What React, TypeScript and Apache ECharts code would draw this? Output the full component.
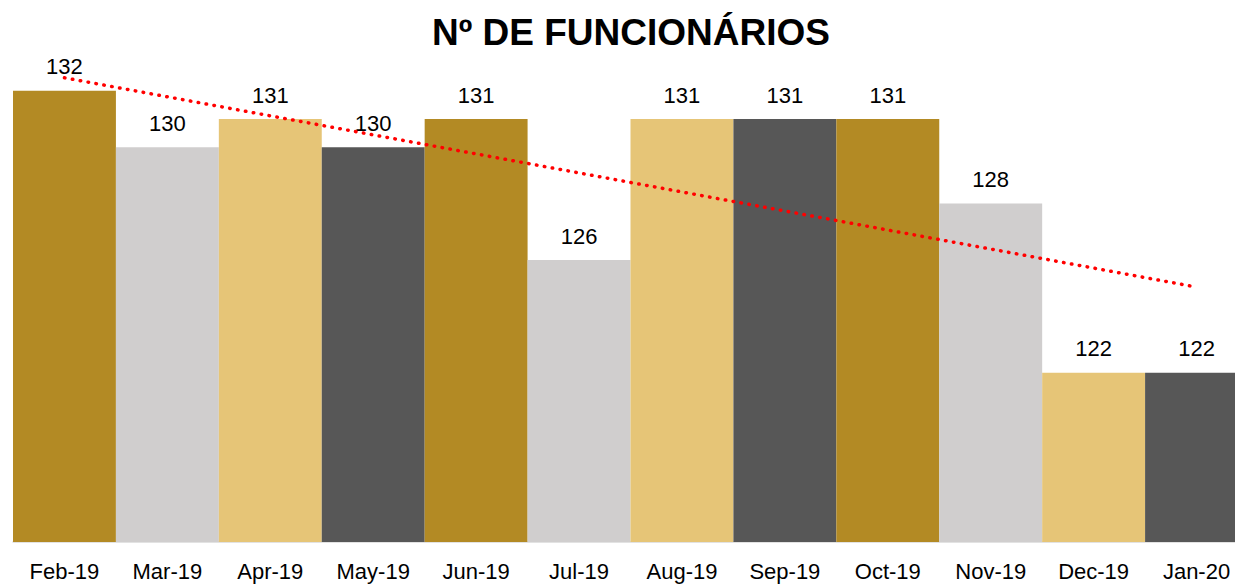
import React, { useEffect, useRef } from "react";
import * as echarts from "echarts";

const title = "Nº DE FUNCIONÁRIOS";
const categories = ["Feb-19", "Mar-19", "Apr-19", "May-19", "Jun-19", "Jul-19", "Aug-19", "Sep-19", "Oct-19", "Nov-19", "Dec-19", "Jan-20"];
const values = [132, 130, 131, 130, 131, 126, 131, 131, 131, 128, 122, 122];
const palette = ["#B38A24", "#D0CECE", "#E6C577", "#575757"];

function linearTrend(ys: number[]): number[] {
  const n = ys.length;
  const xs = ys.map((_, i) => i + 1);
  const mx = xs.reduce((a, b) => a + b, 0) / n;
  const my = ys.reduce((a, b) => a + b, 0) / n;
  let sxy = 0, sxx = 0;
  for (let i = 0; i < n; i++) {
    sxy += (xs[i] - mx) * (ys[i] - my);
    sxx += (xs[i] - mx) * (xs[i] - mx);
  }
  const slope = sxy / sxx;
  return xs.map((x) => my + slope * (x - mx));
}

export default function App() {
  const ref = useRef<HTMLDivElement>(null);
  useEffect(() => {
    if (!ref.current) return;
    const chart = echarts.init(ref.current, null, { renderer: "svg" });
    const font = "'Liberation Sans', Arial, sans-serif";
    chart.setOption({
      animation: false,
      title: {
        text: title,
        left: 626,
        textAlign: "center",
        top: 9,
        textStyle: { fontFamily: font, fontSize: 37, fontWeight: "bold", color: "#000" },
      },
      grid: { left: 13, right: 0, top: 34.4, bottom: 42, containLabel: false },
      xAxis: {
        type: "category",
        data: categories,
        axisTick: { show: false },
        axisLine: { show: true, lineStyle: { color: "#D9D9D9", width: 1.5 } },
        axisLabel: { fontFamily: font, fontSize: 22, color: "#000", margin: 18, interval: 0 },
      },
      yAxis: {
        type: "value",
        min: 116,
        max: 134,
        show: false,
        splitLine: { show: false },
      },
      series: [
        {
          type: "bar",
          barCategoryGap: "0%",
          data: values.map((v, i) => ({ value: v, itemStyle: { color: palette[i % palette.length] } })),
          label: {
            show: true,
            position: "top",
            distance: 13,
            fontFamily: font,
            fontSize: 22,
            color: "#000",
          },
        },
        {
          type: "line",
          data: linearTrend(values),
          symbol: "none",
          silent: true,
          z: 5,
          lineStyle: { color: "#FF0000", width: 3.5, type: [0.5, 7.5], cap: "round" },
        },
      ],
    });
    return () => chart.dispose();
  }, []);
  return (
    <div style={{ position: "absolute", left: 0, top: 0, width: 1235, height: 584, overflow: "hidden" }}>
      <div ref={ref} style={{ width: 1248, height: 584 }} />
    </div>
  );
}
